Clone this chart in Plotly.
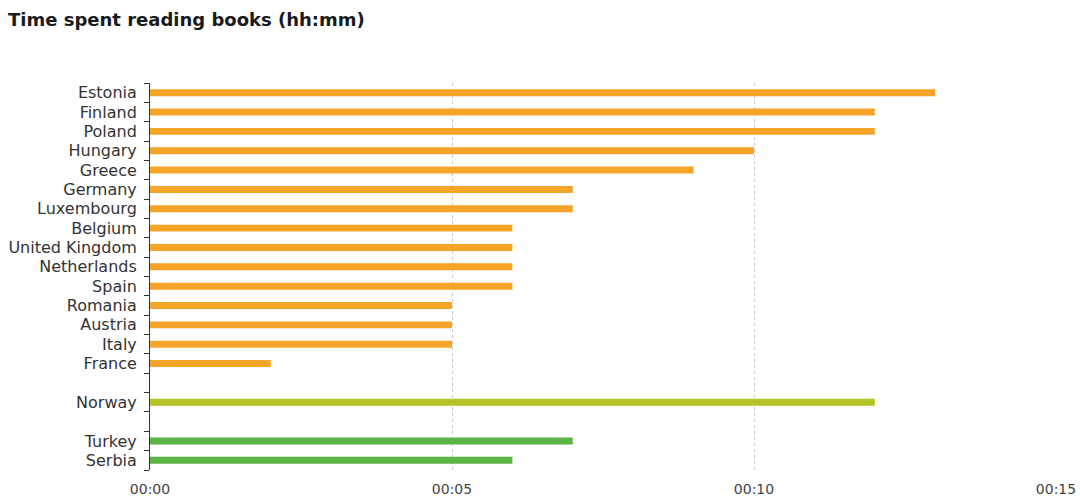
import plotly.graph_objects as go

# Data (minutes per day)
countries = ["Estonia", "Finland", "Poland", "Hungary", "Greece", "Germany",
             "Luxembourg", "Belgium", "United Kingdom", "Netherlands", "Spain",
             "Romania", "Austria", "Italy", "France",
             "Norway",
             "Turkey", "Serbia"]
minutes = [13, 12, 12, 10, 9, 7, 7, 6, 6, 6, 6, 5, 5, 5, 2, 12, 7, 6]
groups = ["EU"] * 15 + ["EFTA"] + ["Candidate"] * 2

# Axis order with blank spacer slots between groups
category_order = countries[:15] + [" "] + ["Norway"] + ["  "] + ["Turkey", "Serbia"]
spacers = [" ", "  "]

x_tickvals = [0, 5, 10, 15]
x_ticktext = ["00:00", "00:05", "00:10", "00:15"]

group_colors = {"EU": "#F4A428", "EFTA": "#B4C325", "Candidate": "#5DB346"}

fig = go.Figure()
fig.add_trace(go.Bar(
    x=minutes, y=countries, orientation="h",
    marker=dict(color=[group_colors[g] for g in groups], line=dict(width=0)),
    showlegend=False,
))
# invisible trace so the spacer categories exist on the axis
fig.add_trace(go.Bar(
    x=[0] * len(spacers), y=spacers, orientation="h",
    marker=dict(color="rgba(0,0,0,0)"), showlegend=False, hoverinfo="skip",
))

fig.update_layout(
    width=1080, height=499,
    margin=dict(l=150, r=24, t=83, b=29),
    paper_bgcolor="white", plot_bgcolor="white",
    barmode="overlay", bargap=0.64,
    font=dict(family="DejaVu Sans", color="#333333"),
    title=dict(text="<b>Time spent reading books (hh:mm)</b>",
               font=dict(family="DejaVu Sans", size=18, color="#1a1a1a"),
               xref="container", yref="container",
               x=8 / 1080, xanchor="left", y=1 - 20 / 499, yanchor="middle"),
    xaxis=dict(range=[0, 15], tickvals=x_tickvals, ticktext=x_ticktext,
               showgrid=True, gridcolor="#c8c8c8", griddash="dot", gridwidth=1,
               zeroline=False, showline=False, ticks="",
               ticklabelstandoff=9, automargin=False,
               tickfont=dict(size=14, color="#444444")),
    yaxis=dict(type="category", categoryorder="array", categoryarray=category_order,
               tickmode="array", tickvals=category_order, ticktext=category_order,
               autorange="reversed", showgrid=False, zeroline=False,
               showline=True, linecolor="#333333", linewidth=1,
               ticks="outside", tickson="boundaries", ticklen=5,
               tickcolor="#333333", ticklabelstandoff=9, automargin=False,
               tickfont=dict(size=16, color="#333333")),
)

fig.write_html("out.html")
